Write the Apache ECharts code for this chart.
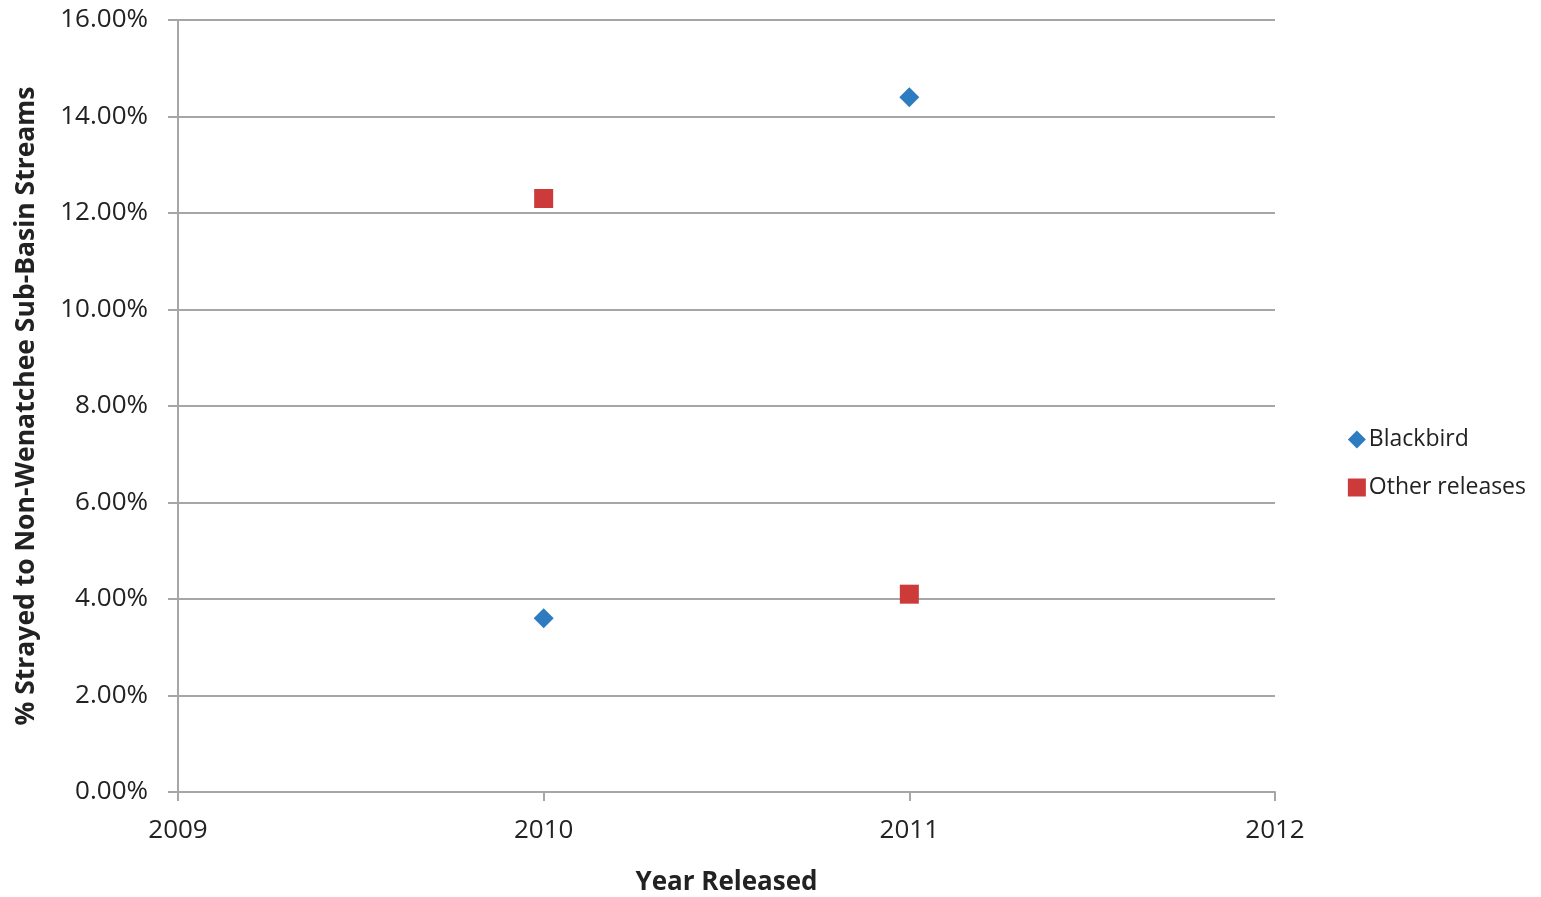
<!DOCTYPE html>
<html><head><meta charset="utf-8">
<script src="https://cdn.jsdelivr.net/npm/echarts@6/dist/echarts.min.js"></script>
<style>html,body{margin:0;padding:0;background:#fff}#c{width:1541px;height:897px}</style>
</head><body><div id="c"></div>
<script>
const years = [2010, 2011];
const blackbird = [3.6, 14.4];
const otherReleases = [12.3, 4.1];
const seriesNames = ['Blackbird', 'Other releases'];
const xTitle = 'Year Released';
const yTitle = '% Strayed to Non-Wenatchee Sub-Basin Streams';

const font = '"Open Sans", "Noto Sans", sans-serif';
const chart = echarts.init(document.getElementById('c'));
chart.setOption({
  animation: false,
  textStyle: {fontFamily: font},
  grid: {left: 178, right: 266, top: 20, bottom: 105, containLabel: false, outerBoundsMode: 'none'},
  legend: {
    orient: 'vertical', right: 10, top: 423, itemGap: 25, itemGap2: 0,
    itemWidth: 18, itemHeight: 18, itemStyle: {opacity: 1},
    textStyle: {fontSize: 23, color: '#222', fontFamily: font, padding: [0, 0, 0, -2]},
    data: [{name: seriesNames[0], icon: 'diamond'}, {name: seriesNames[1], icon: 'rect'}]
  },
  xAxis: {
    type: 'value', min: 2009, max: 2012, interval: 1,
    name: xTitle, nameLocation: 'middle', nameGap: 78,
    nameTextStyle: {fontSize: 26, fontWeight: 'bold', color: '#222', fontFamily: font},
    axisLine: {lineStyle: {color: '#a6a6a6', width: 2}},
    axisTick: {show: true, length: 9, lineStyle: {color: '#a6a6a6', width: 2}},
    axisLabel: {fontSize: 26, color: '#222', margin: 26, formatter: v => String(v)},
    splitLine: {show: false}
  },
  yAxis: {
    type: 'value', min: 0, max: 16, interval: 2,
    name: yTitle, nameLocation: 'middle', nameGap: 138, nameRotate: 90,
    nameTextStyle: {fontSize: 26.5, fontWeight: 'bold', color: '#222', fontFamily: font},
    axisLine: {show: true, lineStyle: {color: '#a6a6a6', width: 2}},
    axisTick: {show: true, length: 10, lineStyle: {color: '#a6a6a6', width: 2}},
    axisLabel: {fontSize: 26, color: '#222', margin: 30, formatter: v => v.toFixed(2) + '%'},
    splitLine: {show: true, lineStyle: {color: '#a6a6a6', width: 2}}
  },
  series: [
    {name: seriesNames[0], type: 'scatter', symbol: 'diamond', symbolSize: 20,
     itemStyle: {color: '#2E7CC0', opacity: 1}, data: years.map((y, i) => [y, blackbird[i]])},
    {name: seriesNames[1], type: 'scatter', symbol: 'rect', symbolSize: 19,
     itemStyle: {color: '#CC3A3A', opacity: 1}, data: years.map((y, i) => [y, otherReleases[i]])}
  ]
});
</script></body></html>
